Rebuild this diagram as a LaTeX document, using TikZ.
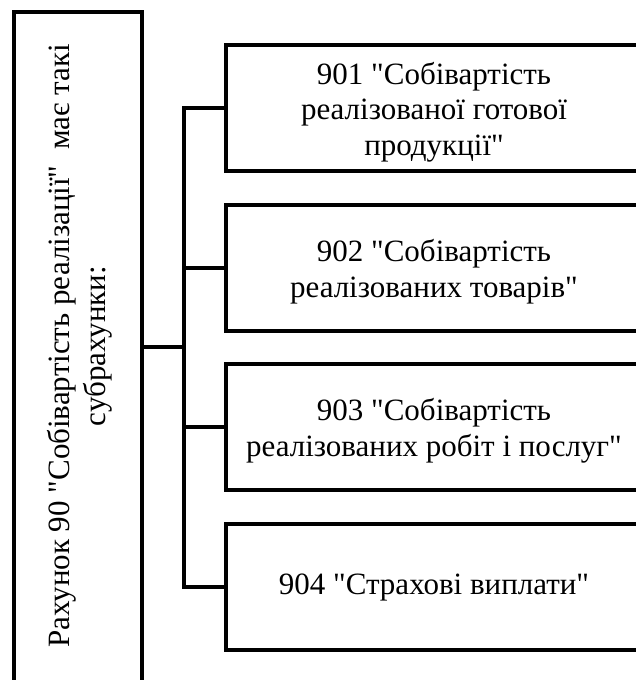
\documentclass[tikz,border=0pt]{standalone}
\usepackage{fontspec}
\setmainfont{Liberation Serif}[Ligatures=TeXOff]
\begin{document}
\begin{tikzpicture}[x=1pt,y=1pt,
  box/.style={draw, line width=4pt, rectangle, inner sep=0pt, minimum width=416pt, minimum height=126pt},
  lbl/.style={font=\fontsize{31}{35.6}\selectfont, align=center},
  wire/.style={line width=4pt}]
\useasboundingbox (0,0) rectangle (635,-680);
\node[draw, line width=4pt, inner sep=0pt, minimum width=128pt, minimum height=672pt] (L) at (78,-348) {};
\node[lbl, rotate=90] (Lt) at (80,-346) {Рахунок 90 "Собівартість реалізації"~ має такі\\субрахунки:};
\node[box, label={[lbl, yshift=-4pt]center:901 "Собівартість\\реалізованої готової\\продукції"}] (b1) at (434,-108) {};
\node[box, label={[lbl, yshift=-4pt]center:902 "Собівартість\\реалізованих товарів"}] (b2) at (434,-267.5) {};
\node[box, label={[lbl, yshift=-4pt]center:903 "Собівартість\\реалізованих робіт і послуг"}] (b3) at (434,-426.5) {};
\node[box, label={[lbl, yshift=-1pt]center:904 "Страхові виплати"}] (b4) at (434,-586.5) {};
\coordinate (bt) at (184,-108);
\coordinate (bb) at (184,-586.5);
\draw[wire] (b1.west) -- (bt) -- (bb) -- (b4.west);
\draw[wire] (b2.west) -- (b2.west -| bt);
\draw[wire] (b3.west) -- (b3.west -| bt);
\draw[wire] (L.east |- 0,-347) -- (bt |- 0,-347);
\end{tikzpicture}
\end{document}
